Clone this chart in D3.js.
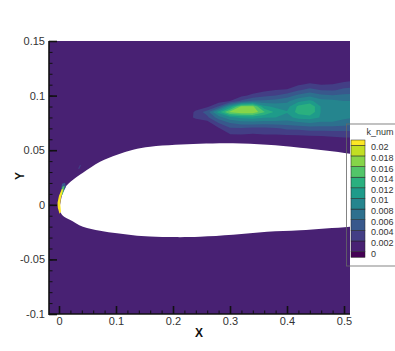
<!DOCTYPE html>
<html>
<head>
<meta charset="utf-8">
<script src="https://cdn.jsdelivr.net/npm/d3@7"></script>
<style>
  html, body { margin: 0; padding: 0; background: #fff; }
  svg { display: block; }
  text { font-family: "Liberation Sans", Arial, sans-serif; fill: #333; }
</style>
</head>
<body>
<div id="chart"></div>
<script>
"use strict";

// contour levels of k_num, top of the legend first
const legendLevels = [0.02, 0.018, 0.016, 0.014, 0.012, 0.01, 0.008, 0.006, 0.004, 0.002, 0];
const xTicks = [0, 0.1, 0.2, 0.3, 0.4, 0.5];
const yTicks = [-0.1, -0.05, 0, 0.05, 0.1, 0.15];

// wake field, k_num * 1000
const gridX = [0.22, 0.24, 0.26, 0.28, 0.30, 0.32, 0.34, 0.36, 0.38, 0.40, 0.42, 0.44, 0.46, 0.48, 0.50, 0.52];
const gridY = [0.12, 0.115, 0.11, 0.105, 0.10, 0.095, 0.09, 0.085, 0.08, 0.075, 0.07, 0.065, 0.06, 0.055, 0.05];
const kField = [
  [0, 0, 0, 0, 0, 0, 0, 0, 0, 0, 0, 0, 0, 0, 0, 0],
  [0, 0, 0, 0, 0, 0, 0, 0, 0, 0, 0, 0.5, 0, 0.2, 1, 1.5],
  [0, 0, 0, 0, 0, 0, 0, 0, 0, 0.5, 1.8, 2.5, 2, 2.2, 3, 3.2],
  [0, 0, 0, 0, 0, 0, 1, 1.5, 2.1, 2.3, 3.8, 4.8, 4, 3.8, 4.5, 5],
  [0, 0, 0, 0, 0.5, 1.5, 2.5, 3.5, 4, 5, 6.5, 7.5, 6.5, 6.2, 6.5, 6.5],
  [0, 0, 0, 1, 2, 4.5, 6.5, 6.5, 6.8, 7.5, 9.5, 10.5, 8.8, 8.5, 8, 8],
  [0, 0.5, 1.5, 4.2, 10.5, 16.5, 16.5, 10.5, 9.5, 9.2, 12.5, 13.8, 9.8, 9.8, 9, 8.5],
  [0, 2.5, 5, 11, 16.5, 17.8, 17.6, 14.2, 11.5, 10.2, 12.8, 13.8, 9.8, 10, 9, 8.5],
  [0.5, 2.5, 3.5, 7, 9.5, 10.5, 11, 10.2, 10, 9.2, 10.8, 11, 9.8, 9.8, 8.5, 8],
  [0, 0.5, 1, 4, 6, 7, 7, 6.8, 7, 7, 7.5, 8, 7.5, 7.5, 7, 6.5],
  [0, 0, 0, 1.8, 3.8, 3.8, 3.4, 3.4, 3.8, 4.4, 4.6, 5, 5, 5, 5, 5],
  [0, 0, 0, 0, 2.1, 2.2, 2, 2.2, 2.2, 2.4, 2.4, 2.6, 2.7, 2.9, 3, 3],
  [0, 0, 0, 0, 0.5, 0.5, 0.5, 0.5, 0.5, 0.6, 0.8, 1, 1, 1.2, 1.5, 1.5],
  [0, 0, 0, 0, 0, 0, 0, 0, 0, 0, 0, 0, 0, 0, 0, 0],
  [0, 0, 0, 0, 0, 0, 0, 0, 0, 0, 0, 0, 0, 0, 0, 0]
];
const kThresholds = [2, 4, 6, 8, 10, 12, 14, 16, 18];

// airfoil outline in X, Y, runs on past the right edge of the plot
const airfoil = [
  [0.0014, -0.0018], [0.0026, 0.0018], [0.005, 0.008], [0.0105, 0.0156], [0.0246, 0.0229], [0.042, 0.0293],
  [0.072, 0.0394], [0.102, 0.0458], [0.13, 0.0504], [0.16, 0.0531], [0.204, 0.0549],
  [0.247, 0.0559], [0.305, 0.0563], [0.365, 0.0549], [0.423, 0.0522], [0.511, 0.0467], [0.56, 0.042], [0.6, 0.038],
  [0.6, -0.016], [0.56, -0.0182], [0.511, -0.0201], [0.423, -0.0234], [0.365, -0.0247], [0.305, -0.0275], [0.247, -0.0293],
  [0.204, -0.0296], [0.16, -0.0291], [0.13, -0.0279], [0.102, -0.0261], [0.072, -0.0238], [0.042, -0.0201],
  [0.019, -0.0137], [0.009, -0.011], [0.002, -0.0064]
];

// small patches at the nose: [band index, outline]
const nosePatches = [
  [3, [[0.0018, 0.0082], [0.0053, 0.0192], [0.0105, 0.0201], [0.0123, 0.0165], [0.007, 0.011]]],
  [8, [[0.0018, 0.0064], [0.0061, 0.0165], [0.0096, 0.0174], [0.007, 0.0101]]],
  [11, [[0.0009, -0.0082], [-0.0021, -0.0027], [-0.0026, 0.0018], [0, 0.0082], [0.0053, 0.0147],
        [0.007, 0.0137], [0.0035, 0.0064], [0.0021, 0.0009], [0.0035, -0.0064]]],
  [2, [[0.0333, 0.033], [0.0368, 0.0366], [0.0386, 0.0362], [0.036, 0.033]]]
];

const width = 395, height = 351;
const plotLeft = 49, plotRight = 350, plotTop = 41, plotBottom = 314;

const x = d3.scaleLinear().domain([-0.01754, 0.5105]).range([plotLeft, plotRight]);
const y = d3.scaleLinear().domain([-0.1, 0.15]).range([plotBottom, plotTop]);

// below 0, ten bands, above 0.02
const bandColors = d3.quantize(d3.interpolateViridis, 12);

const svg = d3.select("#chart").append("svg")
    .attr("width", width)
    .attr("height", height);

svg.append("clipPath").attr("id", "plot-clip")
  .append("rect")
    .attr("x", plotLeft).attr("y", plotTop)
    .attr("width", plotRight - plotLeft).attr("height", plotBottom - plotTop);

const plot = svg.append("g").attr("clip-path", "url(#plot-clip)");

plot.append("rect")
    .attr("x", plotLeft).attr("y", plotTop)
    .attr("width", plotRight - plotLeft).attr("height", plotBottom - plotTop)
    .attr("fill", bandColors[1]);

// d3.contours puts sample i at i + 0.5
const dx = gridX[1] - gridX[0];
const dy = gridY[1] - gridY[0];
const gridProjection = d3.geoTransform({
  point(cx, cy) {
    this.stream.point(x(gridX[0] + (cx - 0.5) * dx), y(gridY[0] + (cy - 0.5) * dy));
  }
});
const gridPath = d3.geoPath(gridProjection);

const contours = d3.contours()
    .size([gridX.length, gridY.length])
    .thresholds(kThresholds)(kField.flat());

plot.append("g").selectAll("path")
  .data(contours)
  .join("path")
    .attr("d", gridPath)
    .attr("fill", (d, i) => bandColors[i + 2]);

const outline = d3.line().x(d => x(d[0])).y(d => y(d[1])).curve(d3.curveLinearClosed);
const smoothOutline = d3.line().x(d => x(d[0])).y(d => y(d[1])).curve(d3.curveCatmullRomClosed);

plot.append("path")
    .attr("d", smoothOutline(airfoil))
    .attr("fill", "#fff");

plot.append("g").selectAll("path")
  .data(nosePatches)
  .join("path")
    .attr("d", d => outline(d[1]))
    .attr("fill", d => bandColors[d[0]]);

// axes, ticks point inward
const xMinor = d3.range(0, 26).map(i => i * 0.02);
const yMinor = d3.range(0, 26).map(i => -0.1 + i * 0.01);

const xAxisGroup = svg.append("g").attr("transform", `translate(0,${plotBottom})`);
xAxisGroup.append("g")
    .call(d3.axisBottom(x).tickValues(xMinor).tickSize(-3.5).tickFormat(""))
    .call(g => g.select(".domain").remove());
xAxisGroup.append("g")
    .call(d3.axisBottom(x).tickValues(xTicks).tickSizeInner(-8).tickSizeOuter(0).tickPadding(3)
      .tickFormat(d => String(d)))
    .call(g => g.select(".domain").remove())
    .call(g => g.selectAll("line").attr("stroke-width", 1.6));

const yAxisGroup = svg.append("g").attr("transform", `translate(${plotLeft},0)`);
yAxisGroup.append("g")
    .call(d3.axisLeft(y).tickValues(yMinor).tickSize(-3.5).tickFormat(""))
    .call(g => g.select(".domain").remove());
yAxisGroup.append("g")
    .call(d3.axisLeft(y).tickValues(yTicks).tickSizeInner(-8).tickSizeOuter(0).tickPadding(4)
      .tickFormat(d => String(d)))
    .call(g => g.select(".domain").remove())
    .call(g => g.selectAll("line").attr("stroke-width", 1.6));

svg.selectAll(".tick text").attr("font-size", 11).style("font-family", '"Liberation Sans", Arial, sans-serif').attr("fill", "#333");
svg.selectAll(".tick line").attr("stroke", "#111");

svg.append("line")
    .attr("x1", plotLeft).attr("x2", plotLeft).attr("y1", plotTop).attr("y2", plotBottom + 1)
    .attr("stroke", "#111").attr("stroke-width", 1.6);
svg.append("line")
    .attr("x1", plotLeft).attr("x2", plotRight).attr("y1", plotBottom).attr("y2", plotBottom)
    .attr("stroke", "#111").attr("stroke-width", 1.6);

svg.append("text")
    .attr("x", 199).attr("y", 337)
    .attr("text-anchor", "middle")
    .attr("font-size", 12).attr("font-weight", "bold")
    .style("fill", "#111")
    .text("X");
svg.append("text")
    .attr("transform", "translate(24,176) rotate(-90)")
    .attr("text-anchor", "middle")
    .attr("font-size", 12).attr("font-weight", "bold")
    .style("fill", "#111")
    .text("Y");

// legend
const legendY = d3.scaleLinear().domain([0, 0.02]).range([251.6, 145.3]);
const legend = svg.append("g");

legend.append("rect")
    .attr("x", 346.5).attr("y", 124)
    .attr("width", 60).attr("height", 142)
    .attr("fill", "none")
    .attr("stroke", "#666").attr("stroke-width", 0.8);

legend.append("text")
    .attr("x", 380).attr("y", 135)
    .attr("text-anchor", "middle")
    .attr("font-size", 9)
    .text("k_num");

// one swatch per band, from the overflow below 0 up to the overflow above 0.02
const swatchEdges = [257.3, ...legendLevels.slice().reverse().map(legendY), 140];
legend.append("g").selectAll("rect")
  .data(bandColors)
  .join("rect")
    .attr("x", 351).attr("width", 14)
    .attr("y", (d, i) => swatchEdges[i + 1])
    .attr("height", (d, i) => swatchEdges[i] - swatchEdges[i + 1])
    .attr("fill", d => d)
    .attr("stroke", "#222").attr("stroke-width", 0.5);

legend.append("g").selectAll("text")
  .data(legendLevels)
  .join("text")
    .attr("x", 371)
    .attr("y", d => legendY(d) + 5)
    .attr("font-size", 9)
    .text(d => String(d));
</script>
</body>
</html>
